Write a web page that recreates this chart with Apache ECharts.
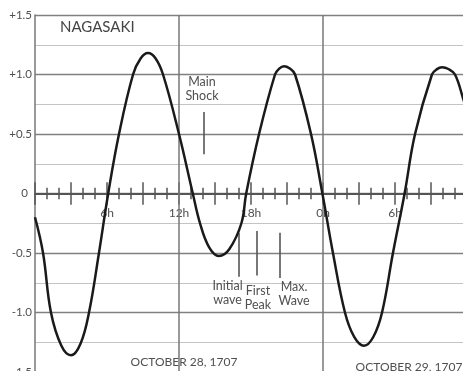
<!DOCTYPE html>
<html>
<head>
<meta charset="utf-8">
<script src="https://cdn.jsdelivr.net/npm/echarts@6/dist/echarts.min.js"></script>
<style>
html,body{margin:0;padding:0;background:#fff;}
#c{width:463px;height:371px;}
</style>
</head>
<body>
<div id="c"></div>
<script>
// Tide level (m) vs hours since 0h, Oct 28, 1707
const hours = [0, 0.67, 1.33, 2.2, 3.0, 3.8, 4.5, 5.33, 6.1, 7.0, 8.17, 8.8, 9.42, 10.05, 10.67, 12.0, 13.15, 13.75, 14.5, 15.33, 16.2, 17.2, 17.6, 18.67, 20.0, 20.35, 20.75, 21.2, 21.67, 23.0, 23.95, 24.83, 25.83, 26.6, 27.42, 28.2, 28.92, 29.83, 30.8, 31.67, 33.08, 33.5, 33.92, 34.45, 35.0, 35.67, 36.0];
const level = [-0.2, -0.5, -1.0, -1.28, -1.36, -1.26, -1.0, -0.5, 0, 0.5, 1.0, 1.135, 1.18, 1.135, 1.0, 0.5, 0, -0.25, -0.45, -0.525, -0.466, -0.25, 0, 0.5, 1.0, 1.05, 1.07, 1.053, 1.0, 0.5, 0, -0.5, -1.0, -1.205, -1.28, -1.204, -1.0, -0.5, 0, 0.5, 1.0, 1.045, 1.06, 1.046, 1.0, 0.8, 0.68];
const yTicks = [-1.5, -1.0, -0.5, 0, 0.5, 1.0, 1.5];
const yTickLabels = ['-1.5', '-1.0', '-0.5', '0', '+0.5', '+1.0', '+1.5'];
const hourLabels = {6: '6h', 12: '12h', 18: '18h', 24: '0h', 30: '6h'};
const dividers = [12, 24];
const eventNames = ['Main\nShock', 'Initial\nwave', 'First\nPeak', 'Max.\nWave'];
const eventTimes = [14.08, 17.0, 18.5, 20.42];
const eventTop = [0.685, -0.33, -0.315, -0.33];
const eventBottom = [0.33, -0.70, -0.69, -0.71];
const dateLabels = ['OCTOBER 28, 1707', 'OCTOBER 29, 1707'];
const stationName = 'NAGASAKI';

const FONT = 'Lato';
const TXT = '#505050';
const tickStyle = {color: '#555', width: 1.5};
const chart = echarts.init(document.getElementById('c'), null, {renderer: 'canvas'});

const eventLines = eventTimes.map((t, i) => [
  {coord: [t, eventTop[i]]},
  {coord: [t, eventBottom[i]]}
]);
const dividerLines = dividers.map(t => ({xAxis: t}));

const mainGrid = {left: 35, right: -4, top: 15, bottom: -1, containLabel: false, outerBoundsMode: 'none'};

const option = {
  animation: false,
  backgroundColor: '#fff',
  grid: [mainGrid],
  xAxis: [
    {
      gridIndex: 0, type: 'value', min: 0, max: 36, interval: 3,
      axisLine: {show: false}, axisTick: {show: false}, axisLabel: {show: false},
      splitLine: {show: false}
    }
  ],
  yAxis: [{
    gridIndex: 0, type: 'value', min: -1.5, max: 1.5, interval: 0.5,
    axisLine: {show: true, onZero: false, lineStyle: {color: '#777', width: 1.5}},
    axisTick: {show: false},
    minorTick: {show: false, splitNumber: 2},
    minorSplitLine: {show: true, lineStyle: {color: '#c4c4c4', width: 1.2}},
    splitLine: {show: true, lineStyle: {color: '#808080', width: 1.4}},
    axisLabel: {
      margin: 3, color: TXT, fontFamily: FONT, fontSize: 11.5,
      formatter: v => {
        const i = yTicks.findIndex(t => Math.abs(t - v) < 1e-6);
        if (i < 0) return '';
        return yTickLabels[i] === '0' ? '{z|0}' : yTickLabels[i];
      },
      rich: {z: {padding: [0, 4, 0, 0], color: TXT, fontFamily: FONT, fontSize: 11.5}}
    }
  }],
  series: [
    {
      type: 'line', name: 'Tide', xAxisIndex: 0, yAxisIndex: 0,
      data: hours.map((h, i) => [h, level[i]]),
      smooth: 0.4, showSymbol: false, symbol: 'none',
      lineStyle: {color: '#1a1a1a', width: 2.5},
      markLine: {
        silent: true, symbol: 'none', animation: false,
        label: {show: false},
        lineStyle: {color: '#777', width: 1.5, type: 'solid'},
        data: dividerLines
      },
      z: 5
    },
    {
      type: 'line', name: 'Events', xAxisIndex: 0, yAxisIndex: 0, data: [],
      markLine: {
        silent: true, symbol: 'none', animation: false,
        label: {show: false},
        lineStyle: {color: '#555', width: 1.6, type: 'solid'},
        data: eventLines
      }
    }
  ]
};
chart.setOption(option);

// Hour axis drawn on the zero line: a flat grid placed where y = 0 falls
const zeroY = chart.convertToPixel({yAxisIndex: 0}, 0);
const flatGrid = {left: 35, right: -4, top: zeroY - 0.25, height: 0.5, containLabel: false, outerBoundsMode: 'none'};
const hourAxis = (pos, withLabels) => ({
  gridIndex: 1, type: 'value', min: 0, max: 36, interval: 3, position: pos,
  axisLine: {show: withLabels, onZero: false, lineStyle: {color: '#555', width: 2}},
  axisTick: {show: true, length: 11, lineStyle: tickStyle},
  minorTick: {show: true, splitNumber: 3, length: 5.5, lineStyle: tickStyle},
  axisLabel: {
    show: withLabels, margin: 13, color: TXT, fontFamily: FONT, fontSize: 12,
    formatter: v => {
      const r = Math.round(v);
      return (Math.abs(v - r) < 1e-6 && hourLabels[r]) ? hourLabels[r] : '';
    }
  },
  splitLine: {show: false}
});
chart.setOption({
  grid: [mainGrid, flatGrid],
  xAxis: [option.xAxis[0], hourAxis('bottom', true), hourAxis('top', false)],
  yAxis: [option.yAxis[0], {gridIndex: 1, type: 'value', min: 0, max: 1, show: false}]
});

// Text annotations anchored to data coordinates
const px = (t, v) => chart.convertToPixel({xAxisIndex: 0, yAxisIndex: 0}, [t, v]);
const labelOffsets = [[-2, -9, 'bottom'], [-11.5, 2, 'top'], [1, 8, 'top'], [14, 2, 'top']];
const graphics = eventNames.map((n, i) => {
  const anchorVal = labelOffsets[i][2] === 'bottom' ? eventTop[i] : eventBottom[i];
  const p = px(eventTimes[i], anchorVal);
  return {
    type: 'text', silent: true,
    x: p[0] + labelOffsets[i][0], y: p[1] + labelOffsets[i][1],
    style: {
      text: n, fill: TXT, font: '12.5px ' + FONT, lineHeight: 14,
      align: 'center', verticalAlign: labelOffsets[i][2]
    }
  };
});
graphics.push({
  type: 'text', silent: true, x: 60, y: 27.5,
  style: {text: stationName, fill: '#444', font: '15px ' + FONT, align: 'left', verticalAlign: 'middle'}
});
graphics.push({
  type: 'text', silent: true, x: 184, y: 362,
  style: {text: dateLabels[0], fill: TXT, font: '12px ' + FONT, align: 'center', verticalAlign: 'middle'}
});
graphics.push({
  type: 'text', silent: true, x: 409, y: 367,
  style: {text: dateLabels[1], fill: TXT, font: '12px ' + FONT, align: 'center', verticalAlign: 'middle'}
});
chart.setOption({graphic: graphics});
</script>
</body>
</html>
